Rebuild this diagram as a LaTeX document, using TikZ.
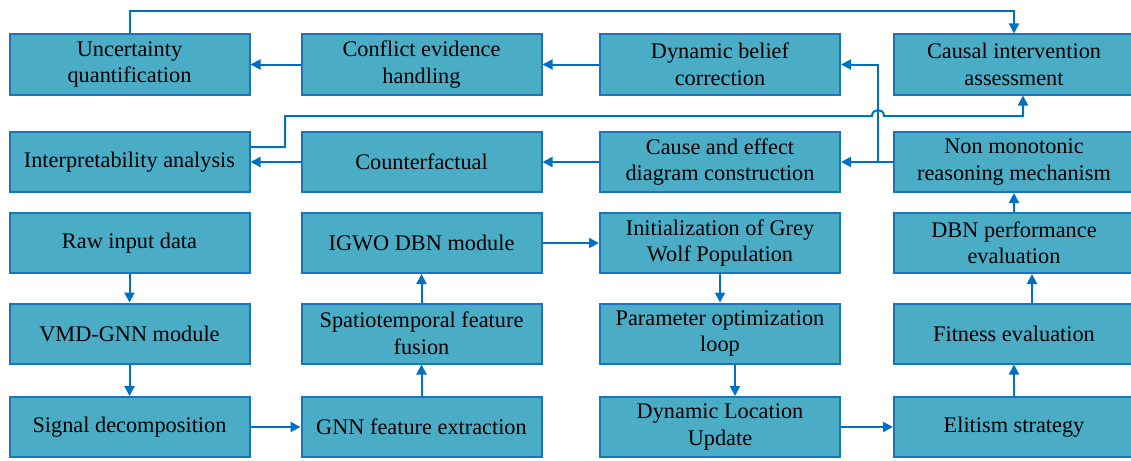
\documentclass[tikz,border=0pt]{standalone}
\usepackage{fontspec}
\setmainfont{Liberation Serif}
\usetikzlibrary{arrows.meta}
\definecolor{fillc}{HTML}{4BACC6}
\definecolor{bordc}{HTML}{1C75BC}
\definecolor{linec}{HTML}{0070C0}
\tikzset{
  box/.style={draw=bordc, line width=2pt, fill=fillc, minimum width=240pt,
    minimum height=60pt, align=center, inner sep=0pt, text=black,
    font=\fontsize{22.3}{26.5}\selectfont},
  conn/.style={draw=linec, line width=2pt},
  arr/.style={conn, -{Triangle[length=10pt,width=10pt]}}
}
\begin{document}
\begin{tikzpicture}[x=1pt,y=-1pt]
\useasboundingbox (0,0) rectangle (1131,460);
% row 1
\node[box] (unc) at (129.5,64.5) {Uncertainty\\quantification};
\node[box] (ceh) at (421.5,64.5) {Conflict evidence\\handling};
\node[box] (dbc) at (720,64.5) {Dynamic belief\\correction};
\node[box] (cia) at (1014,64.5) {Causal intervention\\assessment};
% row 2
\node[box] (ia) at (129.5,162) {Interpretability analysis};
\node[box] (cf) at (421.5,162) {Counterfactual};
\node[box] (cae) at (720,162) {Cause and effect\\diagram construction};
\node[box] (nmr) at (1014,162) {Non monotonic\\reasoning mechanism};
% row 3
\node[box] (raw) at (129.5,243) {Raw input data};
\node[box] (igwo) at (421.5,243) {IGWO DBN module};
\node[box] (init) at (720,243) {Initialization of Grey\\Wolf Population};
\node[box] (dbnp) at (1014,243) {DBN performance\\evaluation};
% row 4
\node[box] (vmd) at (129.5,333.5) {VMD-GNN module};
\node[box] (stf) at (421.5,333.5) {Spatiotemporal feature\\fusion};
\node[box] (pol) at (720,333.5) {Parameter optimization\\loop};
\node[box] (fit) at (1014,333.5) {Fitness evaluation};
% row 5
\node[box] (sd) at (129.5,427) {Signal decomposition};
\node[box] (gnn) at (421.5,427) {GNN feature extraction};
\node[box] (dlu) at (720,427) {Dynamic Location\\Update};
\node[box] (es) at (1014,427) {Elitism strategy};

% top loop
\coordinate (top) at (0,11);
\draw[arr] (unc.north) -- (unc.north |- top) -| (cia.north);
% row 1 arrows
\draw[arr] (ceh.west) -- (unc.east);
\draw[arr] (dbc.west) -- (ceh.east);
% row 2 arrows
\draw[arr] (cf.west) -- (ia.east);
\draw[arr] (cae.west) -- (cf.east);
\draw[arr] (nmr.west) -- (cae.east);
\coordinate (j) at (878,162);
\draw[arr] (j) |- (dbc.east);
% interpretability to causal intervention with hop
\coordinate (p1) at (250,147);
\coordinate (p2) at (285,147);
\coordinate (p3) at (285,116);
\coordinate (h1) at (872,116);
\coordinate (h2) at (884,116);
\coordinate (p4) at (1023,116);
\draw[arr] (p1) -- (p2) -- (p3) -- (h1) .. controls (872,108) and (884,108) .. (h2) -- (p4) -- (p4 |- cia.south);
% column 1
\draw[arr] (raw.south) -- (vmd.north);
\draw[arr] (vmd.south) -- (sd.north);
\draw[arr] (sd.east) -- (gnn.west);
% column 2
\draw[arr] (gnn.north) -- (stf.south);
\draw[arr] (stf.north) -- (igwo.south);
\draw[arr] (igwo.east) -- (init.west);
% column 3
\draw[arr] (init.south) -- (pol.north);
\draw[arr] ([xshift=15pt]pol.south) -- ([xshift=15pt]pol.south |- dlu.north);
\draw[arr] (dlu.east) -- (es.west);
% column 4
\draw[arr] (es.north) -- (fit.south);
\draw[arr] ([xshift=18pt]fit.north) -- ([xshift=18pt]fit.north |- dbnp.south);
\draw[arr] (dbnp.north) -- (nmr.south);
\end{tikzpicture}
\end{document}
